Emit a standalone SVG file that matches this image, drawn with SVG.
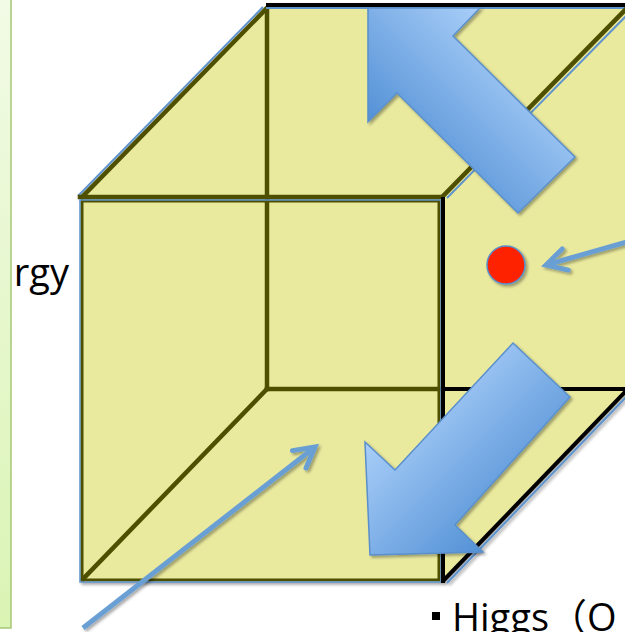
<svg xmlns="http://www.w3.org/2000/svg" width="625" height="632" viewBox="0 0 625 632">
  <style>
    .olive { stroke: #4f4f00; stroke-width: 4.5; fill: none; stroke-linecap: square; }
    .blk { stroke: #000000; stroke-width: 4; fill: none; }
    .bl { stroke: #5e93cc; stroke-width: 2; fill: none; }
    .face { fill: #eaea9f; }
    .big { stroke: #5a8fcb; stroke-width: 1.5; stroke-linejoin: miter; }
    .thin { stroke: #6a9fd3; stroke-width: 5; fill: none; }
    .txt { font-family: "Open Sans", "Liberation Sans", "Noto Sans CJK JP", sans-serif; fill: #000000; }
  </style>
  <defs>
    <linearGradient id="panelGrad" x1="0" y1="0" x2="0" y2="1">
      <stop offset="0" stop-color="#f2fbe6"/>
      <stop offset="1" stop-color="#daf4b4"/>
    </linearGradient>
    <linearGradient id="arrowGrad1" gradientUnits="userSpaceOnUse" x1="480" y1="8" x2="367" y2="121">
      <stop offset="0" stop-color="#a9cef8"/>
      <stop offset="1" stop-color="#5391d6"/>
    </linearGradient>
    <linearGradient id="arrowGrad2" gradientUnits="userSpaceOnUse" x1="365" y1="442" x2="479" y2="556">
      <stop offset="0" stop-color="#a9cef8"/>
      <stop offset="1" stop-color="#5391d6"/>
    </linearGradient>
    <filter id="shadow" x="-20%" y="-20%" width="140%" height="140%">
      <feDropShadow dx="2" dy="2" stdDeviation="1.5" flood-color="#000" flood-opacity="0.35"/>
    </filter>
    <marker id="chev" markerUnits="userSpaceOnUse" viewBox="-30 -20 40 40" markerWidth="40" markerHeight="40" refX="0" refY="0" orient="auto">
      <path d="M -20 -11 L 0 0 L -20 11" fill="none" stroke="#6a9fd3" stroke-width="5" stroke-linecap="round" stroke-linejoin="miter"/>
    </marker>
  </defs>

  <rect width="625" height="632" fill="#ffffff"/>

  <g id="left-panel">
    <rect x="-3" y="-3" width="14" height="631" fill="url(#panelGrad)" stroke="#a6c776" stroke-width="1.5"/>
  </g>

  <g id="label-energy">
    <text class="txt" x="69" y="286" font-size="38" text-anchor="end">rgy</text>
  </g>

  <g id="cube" filter="url(#shadow)">
    <polygon class="face" points="80,197 266,8 630,8 630,390 443,582 80,582"/>
    <line class="olive" x1="267" y1="9" x2="267" y2="389"/>
    <line class="olive" x1="267" y1="389" x2="443" y2="389"/>
    <line class="olive" x1="267" y1="389" x2="83" y2="579"/>
    <line class="blk" x1="443" y1="389" x2="630" y2="389"/>
    <line class="bl" x1="78" y1="196" x2="263" y2="7"/>
    <line class="olive" x1="82" y1="197" x2="266" y2="9"/>
    <line class="blk" x1="266" y1="5" x2="630" y2="5"/>
    <line class="bl" x1="266" y1="8" x2="630" y2="8"/>
    <line class="olive" x1="80" y1="197" x2="442" y2="197"/>
    <line class="olive" x1="442" y1="197" x2="628" y2="7"/>
    <line class="bl" x1="447" y1="198" x2="630" y2="12"/>
    <rect x="82" y="201" width="357" height="379" fill="none" stroke="#4f4f00" stroke-width="3"/>
    <rect x="80" y="200" width="361" height="382" fill="none" stroke="#5e93cc" stroke-width="1.5"/>
    <line class="blk" x1="443" y1="197" x2="443" y2="583"/>
    <line class="blk" x1="443" y1="581" x2="628" y2="389"/>
    <line class="bl" x1="447" y1="583" x2="630" y2="393"/>
  </g>

  <g id="arrow-up">
    <polygon class="big" fill="url(#arrowGrad1)" filter="url(#shadow)" points="368,8 480,8 453,36 575,157 518,213 397,93 368,122"/>
  </g>

  <g id="arrow-down">
    <polygon class="big" fill="url(#arrowGrad2)" filter="url(#shadow)" points="370,555 483,552 455,525 570,397 513,343 395,470 365,442"/>
  </g>

  <g id="red-dot">
    <circle cx="506" cy="265" r="19" fill="#ff2200" stroke="#5b8fc8" stroke-width="1.5" filter="url(#shadow)"/>
  </g>

  <g id="connectors" filter="url(#shadow)">
    <line class="thin" x1="630" y1="241" x2="546" y2="265" marker-end="url(#chev)"/>
    <line class="thin" x1="83" y1="628" x2="315" y2="447" marker-end="url(#chev)"/>
  </g>

  <g id="label-higgs">
    <rect x="432" y="612" width="8" height="8" fill="#000000"/>
    <text class="txt" x="452" y="631" font-size="38">Higgs（O</text>
  </g>
</svg>
